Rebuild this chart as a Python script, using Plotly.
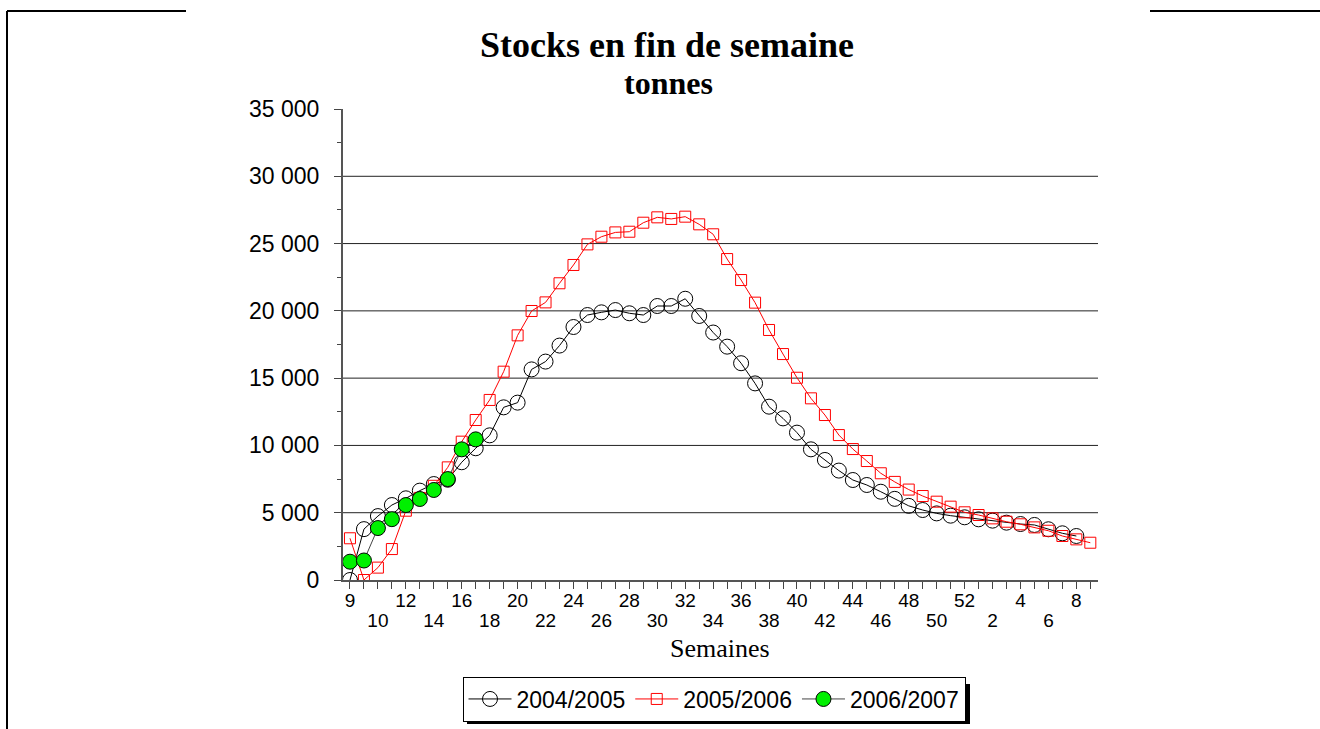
import plotly.graph_objects as go

# week labels for each category position (season runs week 9 -> week 9 next year)
semaines = [9, 9, 10, 11, 12, 13, 14, 15, 16, 17, 18, 19, 20, 21, 22, 23, 24, 25,
            26, 27, 28, 29, 30, 31, 32, 33, 34, 35, 36, 37, 38, 39, 40, 41, 42, 43,
            44, 45, 46, 47, 48, 49, 50, 51, 52, 1, 2, 3, 4, 5, 6, 7, 8, 9]

# tonnes
stock_2004_2005 = [0, 3780, 4750, 5570, 6070, 6640, 7130, 7450, 8750, 9790,
                   10750, 12830, 13180, 15650, 16230, 17420, 18800, 19690, 19890, 20060,
                   19820, 19690, 20360, 20360, 20900, 19620, 18390, 17340, 16110, 14610,
                   12880, 12010, 10950, 9710, 8920, 8130, 7430, 7060, 6560, 6030,
                   5510, 5200, 4950, 4780, 4660, 4510, 4410, 4260, 4160, 4090,
                   3770, 3470, 3270]
stock_2005_2006 = [3100, 0, 920, 2300, 5150, 6100, 7000, 8370, 10280, 11890,
                   13380, 15480, 18180, 19990, 20630, 22050, 23410, 24940, 25510, 25830,
                   25880, 26550, 26950, 26830, 27000, 26430, 25690, 23850, 22290, 20610,
                   18580, 16790, 15030, 13500, 12260, 10770, 9730, 8840, 7930, 7290,
                   6720, 6240, 5820, 5450, 5030, 4830, 4580, 4330, 4140, 3910,
                   3660, 3270, 3020, 2770]
stock_2006_2007 = [1360, 1450, 3860, 4520, 5570, 6020, 6690, 7500, 9710, 10450]

grid_values = [5000, 10000, 15000, 20000, 25000, 30000]
y_ticks = [0, 5000, 10000, 15000, 20000, 25000, 30000, 35000]
y_labels = ["0", "5 000", "10 000", "15 000", "20 000", "25 000", "30 000", "35 000"]

positions = list(range(len(semaines)))
top_row = positions[0::4]
bottom_row = positions[2::4]

# plot area in pixels, used to place page decorations
L, R, T, B = 343, 1098, 109, 580


def px(x):
    return (x - L) / (R - L)


def py(y):
    return (B - y) / (B - T)


fig = go.Figure()
fig.add_trace(go.Scatter(
    x=positions[:len(stock_2004_2005)], y=stock_2004_2005, name="2004/2005",
    mode="lines+markers", line=dict(color="black", width=1),
    marker=dict(symbol="circle-open", size=15, color="black", line=dict(width=1)),
))
fig.add_trace(go.Scatter(
    x=positions[:len(stock_2005_2006)], y=stock_2005_2006, name="2005/2006",
    mode="lines+markers", line=dict(color="#ff0000", width=1),
    marker=dict(symbol="square-open", size=11, color="#ff0000", line=dict(width=1)),
))
# drawn on the overlaid axis (same range) so it sits on top, and carries the second label row
fig.add_trace(go.Scatter(
    x=positions[:len(stock_2006_2007)], y=stock_2006_2007, name="2006/2007",
    xaxis="x2", mode="lines+markers", line=dict(color="#444444", width=1),
    marker=dict(symbol="circle", size=15, color="#00f000", line=dict(color="black", width=1)),
))

for g in grid_values:
    fig.add_hline(y=g, line_color="#222222", line_width=1, layer="below")

# page frame pieces and legend shadow
frame = [
    (7, 11, 186, 11), (7, 11, 7, 729), (1150, 11, 1320, 11),
]
for x0, y0, x1, y1 in frame:
    fig.add_shape(type="line", xref="paper", yref="paper",
                  x0=px(x0), y0=py(y0), x1=px(x1), y1=py(y1),
                  line=dict(color="black", width=2))
fig.add_shape(type="rect", xref="paper", yref="paper",
              x0=px(467), y0=py(724), x1=px(970), y1=py(684),
              fillcolor="black", line_width=0, layer="below")

titles = [
    ("<b>Stocks en fin de semaine</b>", 667, 45, 36),
    ("<b>tonnes</b>", 668, 83, 32),
    ("Semaines", 720, 648, 26),
]
for text, tx, ty, size in titles:
    fig.add_annotation(text=text, xref="paper", yref="paper",
                       x=px(tx), y=py(ty), xanchor="center", yanchor="middle",
                       showarrow=False,
                       font=dict(family="Liberation Serif", size=size, color="black"))

x_range = [-0.5, 53.55]
fig.update_layout(
    width=1320, height=729,
    margin=dict(l=L, r=1320 - R, t=T, b=729 - B, autoexpand=False),
    paper_bgcolor="white", plot_bgcolor="rgba(0,0,0,0)",
    font=dict(family="Liberation Sans", color="black"),
    showlegend=True,
    legend=dict(orientation="h", x=px(714), xanchor="center", y=py(699), yanchor="middle",
                bgcolor="white", bordercolor="black", borderwidth=1,
                font=dict(size=23), itemwidth=43, tracegroupgap=0),
    xaxis=dict(range=x_range, tickmode="array", tickvals=positions,
               ticktext=[str(semaines[i]) if i in top_row else "" for i in positions],
               ticks="outside", ticklen=7, tickcolor="#444444",
               showline=True, linecolor="#555555", linewidth=2,
               showgrid=False, zeroline=False, tickfont=dict(size=19),
               ticklabelstandoff=-5, automargin=False),
    xaxis2=dict(range=x_range, overlaying="x", anchor="y", side="bottom",
                tickmode="array", tickvals=bottom_row,
                ticktext=[str(semaines[i]) for i in bottom_row],
                ticks="", showline=False, showgrid=False, zeroline=False,
                tickfont=dict(size=19), ticklabelstandoff=27, automargin=False),
    yaxis=dict(range=[0, 35000], tickmode="array", tickvals=y_ticks, ticktext=y_labels,
               ticks="outside", ticklen=7, tickcolor="#444444",
               minor=dict(ticks="outside", ticklen=4, dtick=2500, tickcolor="#444444"),
               showline=True, linecolor="#555555", linewidth=2,
               showgrid=False, zeroline=False, tickfont=dict(size=23),
               ticklabelstandoff=10, automargin=False),
)

fig.write_html("out.html", config={"displayModeBar": False},
               post_script="document.body.style.margin = '0px';")
